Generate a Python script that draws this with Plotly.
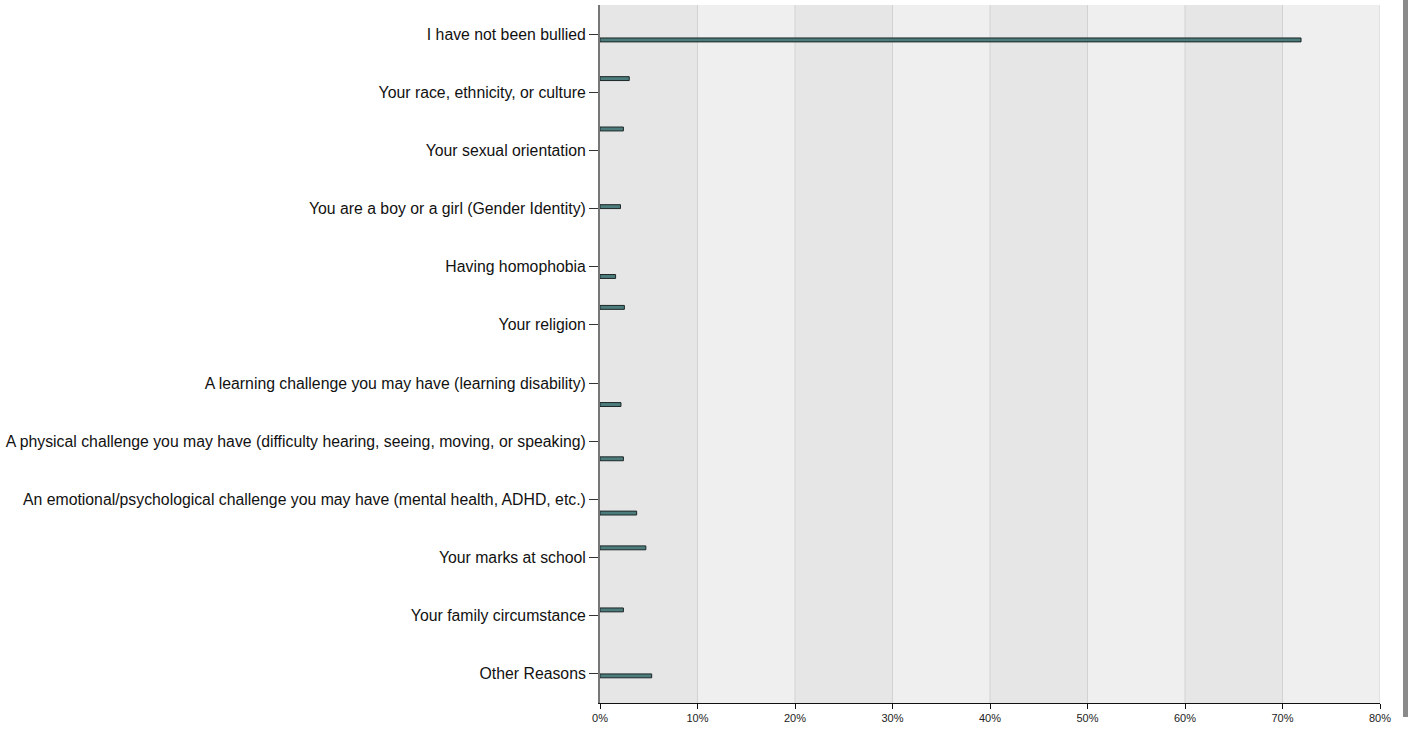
import plotly.graph_objects as go

categories = [
    "I have not been bullied",
    "Your race, ethnicity, or culture",
    "Your sexual orientation",
    "You are a boy or a girl (Gender Identity)",
    "Having homophobia",
    "Your religion",
    "A learning challenge you may have (learning disability)",
    "A physical challenge you may have (difficulty hearing, seeing, moving, or speaking)",
    "An emotional/psychological challenge you may have (mental health, ADHD, etc.)",
    "Your marks at school",
    "Your family circumstance",
    "Other Reasons",
]
values = [71.9, 3.0, 2.4, 2.1, 1.6, 2.5, 2.15, 2.4, 3.76, 4.7, 2.4, 5.3]
# series (group slot) each response belongs to
series_index = [7, 2, 0, 5, 8, 1, 11, 10, 9, 3, 4, 6]
n_series = 12

x_ticks = [0, 10, 20, 30, 40, 50, 60, 70, 80]
x_tick_labels = [f"{t}%" for t in x_ticks]

fig = go.Figure()
for s in range(n_series):
    xs = [v if si == s else None for v, si in zip(values, series_index)]
    fig.add_trace(go.Bar(
        y=categories, x=xs, orientation="h",
        marker=dict(color="#4d7c7c", line=dict(color="#1c2626", width=1)),
        showlegend=False, hoverinfo="x+y",
    ))

shapes = []
for i in range(len(x_ticks) - 1):
    shapes.append(dict(
        type="rect", xref="x", yref="paper",
        x0=x_ticks[i], x1=x_ticks[i + 1], y0=0, y1=1,
        fillcolor="#e6e6e6" if i % 2 == 0 else "#efefef",
        line=dict(width=0), layer="below",
    ))
for t in x_ticks[1:]:
    shapes.append(dict(
        type="line", xref="x", yref="paper", x0=t, x1=t, y0=0, y1=1,
        line=dict(color="#d2d2d2", width=1), layer="below",
    ))
# right edge strip
shapes.append(dict(
    type="rect", xref="paper", yref="paper",
    x0=(1403 - 600) / 780, x1=(1408 - 600) / 780, y0=-0.02, y1=1.007,
    fillcolor="#8a8a8a", line=dict(width=0), layer="above",
))

fig.update_layout(
    width=1408, height=729,
    margin=dict(l=600, r=28, t=5, b=26),
    paper_bgcolor="white", plot_bgcolor="rgba(0,0,0,0)",
    barmode="group", bargap=0.196, bargroupgap=0,
    font=dict(family="Liberation Sans, Arial, sans-serif", color="#111111"),
    shapes=shapes,
    xaxis=dict(
        range=[0, 80], tickvals=x_ticks, ticktext=x_tick_labels,
        showgrid=False, zeroline=False,
        showline=True, linecolor="#111111", linewidth=1,
        ticks="outside", ticklen=5, tickcolor="#111111",
        tickfont=dict(size=11, color="#222222"),
        fixedrange=True,
    ),
    yaxis=dict(
        autorange="reversed", type="category",
        showgrid=False, zeroline=False,
        showline=True, linecolor="#777777", linewidth=2,
        ticks="outside", ticklen=9, tickcolor="#333333",
        tickfont=dict(size=15.8, color="#111111"),
        fixedrange=True,
    ),
)

fig.write_html(
    "out.html",
    config={"displayModeBar": False},
    post_script="document.body.style.margin='0px';document.body.style.overflow='hidden';",
)
